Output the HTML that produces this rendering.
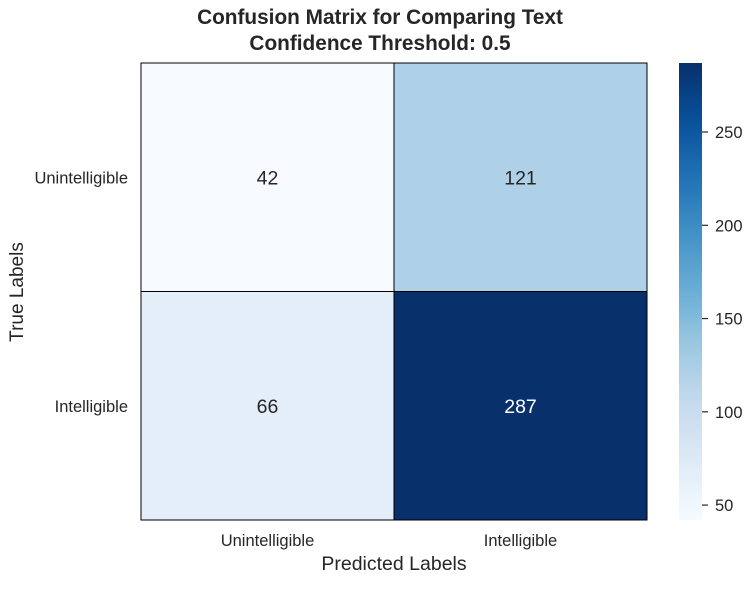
<!DOCTYPE html>
<html><head><meta charset="utf-8"><style>
html,body{margin:0;padding:0;background:#fff;}
svg text{font-family:"Liberation Sans",Arial,sans-serif;}
</style></head><body>
<svg id="c" width="752" height="584" viewBox="0 0 752 584" xmlns="http://www.w3.org/2000/svg">
<defs><linearGradient id="cbg" x1="0" y1="1" x2="0" y2="0"></linearGradient></defs>
<text x="380" y="24" text-anchor="middle" font-size="20.8" font-weight="bold" fill="#262626">Confusion Matrix for Comparing Text</text>
<text x="380" y="50" text-anchor="middle" font-size="20.8" font-weight="bold" fill="#262626">Confidence Threshold: 0.5</text>
<g id="cells"></g>
<g id="axes"></g>
<text x="394" y="570" text-anchor="middle" font-size="19.5" fill="#262626">Predicted Labels</text>
<text transform="translate(23,292) rotate(-90)" text-anchor="middle" font-size="19" fill="#262626">True Labels</text>
<rect x="679" y="63" width="23" height="457" fill="url(#cbg)"/>
<g id="cbticks"></g>
</svg>
<script>
const categories = ["Unintelligible","Intelligible"];
const rowValues0 = [42,121];
const rowValues1 = [66,287];
const cbTicks = [50,100,150,200,250];
const values=[rowValues0,rowValues1];
const vmin=Math.min(...values.flat()), vmax=Math.max(...values.flat());
const blues=["#f7fbff","#deebf7","#c6dbef","#9ecae1","#6baed6","#4292c6","#2171b5","#08519c","#08306b"];
function hex(h){return [1,3,5].map(i=>parseInt(h.substr(i,2),16));}
function cmap(t){t=Math.max(0,Math.min(1,t));const p=t*8,i=Math.min(7,Math.floor(p)),f=p-i;const a=hex(blues[i]),b=hex(blues[i+1]);return "rgb("+a.map((v,k)=>Math.round(v+(b[k]-v)*f)).join(",")+")";}
const NS="http://www.w3.org/2000/svg";
const L=141,R=647,T=63,B=520;
const cw=(R-L)/categories.length, ch=(B-T)/categories.length;
function mk(tag,attrs,parent,txt){const e=document.createElementNS(NS,tag);for(const k in attrs)e.setAttribute(k,attrs[k]);if(txt!==undefined)e.textContent=txt;parent.appendChild(e);return e;}
const cells=document.getElementById('cells');
values.forEach((row,r)=>row.forEach((v,c)=>{
 const t=(v-vmin)/(vmax-vmin);
 const rc=mk('rect',{x:L+c*cw,y:T+r*ch,width:cw,height:ch,fill:cmap(t),stroke:"#000","stroke-width":1},cells);
 
 
 const tx=mk('text',{x:L+c*cw+cw/2,y:T+r*ch+ch/2+7,"text-anchor":"middle","font-size":19.5,fill:t>0.5?"#fff":"#262626"},cells,String(v));
 
 
}));
const axes=document.getElementById('axes');
categories.forEach((c,i)=>{
 const xt=mk('text',{x:L+i*cw+cw/2,y:546,"text-anchor":"middle","font-size":16.5,fill:"#262626"},axes,c);
 
 
 const yt=mk('text',{x:128,y:T+i*ch+ch/2+6,"text-anchor":"end","font-size":16.5,fill:"#262626"},axes,c);
 
 
});
const g=document.getElementById('cbg');
for(let i=0;i<=20;i++){mk('stop',{offset:(i/20),"stop-color":cmap(i/20)},g);}
const cb=document.getElementById('cbticks');
cbTicks.forEach(v=>{
 const y=B-(v-vmin)/(vmax-vmin)*(B-T);
 const ln=mk('line',{x1:702,x2:708,y1:y,y2:y,stroke:"#262626","stroke-width":1.2},cb);
 
 
 const t=mk('text',{x:715,y:y+6,"font-size":16.5,fill:"#262626"},cb,String(v));
 
 
});
</script>
</body></html>
